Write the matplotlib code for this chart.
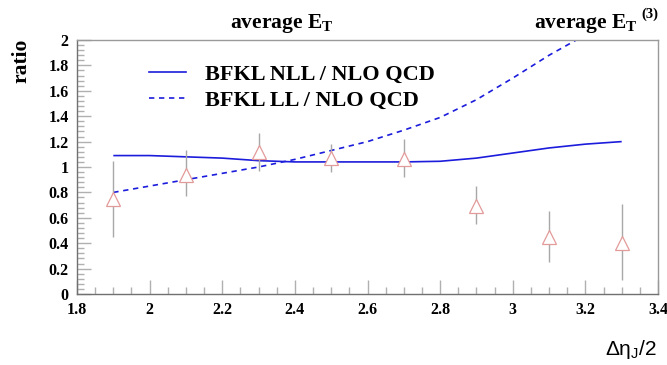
import matplotlib
matplotlib.use("Agg")
import matplotlib.pyplot as plt
from matplotlib.lines import Line2D
from matplotlib.ticker import MultipleLocator, FuncFormatter

plt.rcParams["mathtext.fontset"] = "custom"
plt.rcParams["mathtext.rm"] = "Liberation Sans"
plt.rcParams["mathtext.bf"] = "Liberation Serif:bold"
plt.rcParams["mathtext.it"] = "Liberation Sans:italic"

# data points (ratio data / NLO QCD)
x_data = [1.9, 2.1, 2.3, 2.5, 2.7, 2.9, 3.1, 3.3]
y_data = [0.75, 0.94, 1.12, 1.07, 1.06, 0.69, 0.45, 0.40]
err_lo = [0.30, 0.17, 0.15, 0.11, 0.14, 0.14, 0.20, 0.29]
err_hi = [0.30, 0.19, 0.15, 0.11, 0.16, 0.16, 0.20, 0.31]

# BFKL NLL / NLO QCD
x_nll = [1.9, 2.0, 2.1, 2.2, 2.3, 2.4, 2.5, 2.6, 2.7, 2.8, 2.9, 3.0, 3.1, 3.2, 3.3]
y_nll = [1.09, 1.09, 1.08, 1.07, 1.05, 1.04, 1.04, 1.04, 1.04, 1.045, 1.07, 1.11, 1.15, 1.18, 1.20]

# BFKL LL / NLO QCD
x_ll = [1.9, 2.0, 2.1, 2.2, 2.3, 2.4, 2.5, 2.6, 2.7, 2.8, 2.9, 3.0, 3.1, 3.2, 3.3]
y_ll = [0.80, 0.85, 0.90, 0.95, 1.00, 1.06, 1.13, 1.20, 1.29, 1.39, 1.53, 1.70, 1.88, 2.04, 2.22]

labels = ["BFKL NLL / NLO QCD", "BFKL LL / NLO QCD"]

serif = ["Liberation Serif", "DejaVu Serif"]

fig = plt.figure(figsize=(6.67, 3.65), dpi=100)
ax = fig.add_axes([77/667, 1-294/365, (658-77)/667, (294-40)/365])

line_color = "#1c1cdc"
ax.plot(x_nll, y_nll, color=line_color, lw=1.2, solid_capstyle="butt")
ax.plot(x_ll, y_ll, color=line_color, lw=1.2, dashes=(3.2, 2.8))

ax.errorbar(x_data, y_data, yerr=[err_lo, err_hi], fmt="none", ecolor="#a8a8a8",
            elinewidth=1.0, capsize=0)
ax.plot(x_data, y_data, linestyle="none", marker="^", markersize=10,
        markerfacecolor="white", markeredgecolor="#e39a9a", markeredgewidth=0.9)

ax.set_xlim(1.8, 3.4)
ax.set_ylim(0, 2)
ax.xaxis.set_major_locator(MultipleLocator(0.2))
ax.xaxis.set_minor_locator(MultipleLocator(0.05))
ax.yaxis.set_major_locator(MultipleLocator(0.2))
ax.yaxis.set_minor_locator(MultipleLocator(0.04))
ax.tick_params(which="both", direction="in", color="#b0b0b0", top=False, right=False)
ax.tick_params(which="major", length=10, width=1.0)
ax.tick_params(which="minor", length=5, width=1.0)
ax.tick_params(axis="both", labelsize=11.5, pad=6)
ax.xaxis.set_major_formatter(FuncFormatter(lambda v, p: f"{v:g}"))
ax.yaxis.set_major_formatter(FuncFormatter(lambda v, p: f"{v:g}"))
for lab in ax.get_xticklabels() + ax.get_yticklabels():
    lab.set_fontfamily(serif)
    lab.set_fontweight("bold")
for s in ax.spines.values():
    s.set_color("#9a9a9a")
    s.set_linewidth(1.0)
ax.spines["left"].set_color("#707070")
ax.spines["bottom"].set_color("#707070")

# legend
h1 = Line2D([], [], color=line_color, lw=1.2)
h2 = Line2D([], [], color=line_color, lw=1.2, dashes=(3.2, 2.8))
leg = ax.legend([h1, h2], labels, loc="upper left", bbox_to_anchor=(0.124, 0.905),
                frameon=False, handlelength=1.65, handletextpad=0.85, labelspacing=0.25,
                borderpad=0, borderaxespad=0,
                prop={"family": serif, "weight": "bold", "size": 16})

fig.text(230/667, 1-28/365, r"average E$_\mathbf{T}$", family=serif, weight="bold",
         fontsize=15.5, ha="left", va="baseline")
fig.text(534/667, 1-28/365, r"average E$_\mathbf{T}$", family=serif, weight="bold",
         fontsize=15.5, ha="left", va="baseline")
fig.text(641/667, 1-18/365, "(3)", family=serif, weight="bold",
         fontsize=10.5, ha="left", va="baseline")
fig.text(21/667, 1-39/365, "ratio", family=serif, weight="bold", fontsize=15.5,
         rotation=90, ha="center", va="top")
fig.text(657/667, 1-355/365, r"$\mathrm{\Delta\eta_J/2}$",
         fontsize=15, ha="right", va="baseline")

fig.savefig("out.png", dpi=100)
